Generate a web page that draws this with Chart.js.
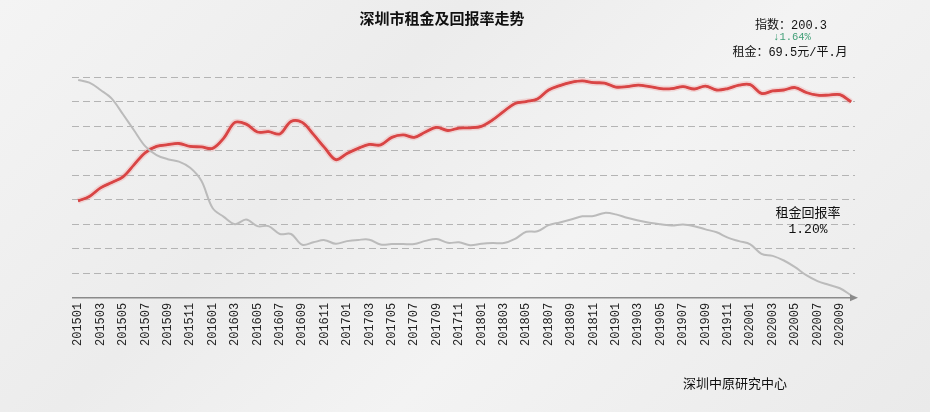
<!DOCTYPE html>
<html>
<head>
<meta charset="utf-8">
<script src="https://cdn.jsdelivr.net/npm/chart.js@4"></script>
<style>
  html, body { margin: 0; padding: 0; }
  body {
    width: 930px; height: 412px; overflow: hidden; position: relative;
    background: linear-gradient(135deg, #f4f4f4 0%, #ececec 35%, #f3f3f3 60%, #eaeaea 100%);
    font-family: "Liberation Mono", "Noto Sans CJK SC", monospace;
  }
  #grafica { position: absolute; left: 0; top: 0; }
  .txt { position: absolute; color: #111; white-space: nowrap; transform: translateX(-50%); line-height: 1; }
  #titulo { left: 442px; top: 7px; font: bold 15px "Noto Sans CJK SC", sans-serif; }
  #indice { left: 791px; top: 20px; font-size: 12px; }
  #cambio { left: 792px; top: 32px; font-size: 10.5px; color: #3f9e76; }
  #renta { left: 790px; top: 47px; font-size: 12px; }
  #retorno { left: 808px; top: 206px; font-size: 13px; text-align: center; line-height: 16px; }
  #fuente { left: 735px; top: 373px; font: 13px "Noto Sans CJK SC", sans-serif; }
</style>
</head>
<body>
<canvas id="grafica" width="930" height="412"></canvas>
<div class="txt" id="titulo">深圳市租金及回报率走势</div>
<div class="txt" id="indice">指数：200.3</div>
<div class="txt" id="cambio">↓1.64%</div>
<div class="txt" id="renta">租金：69.5元/平.月</div>
<div class="txt" id="retorno">租金回报率<br>1.20%</div>
<div class="txt" id="fuente">深圳中原研究中心</div>
<script>
/* Meses 201501 - 202010 */
const meses = [];
for (let a = 2015; a <= 2020; a++) {
    for (let m = 1; m <= 12; m++) {
        if (a === 2020 && m > 10) break;
        meses.push(a + String(m).padStart(2, '0'));
    }
}

// índice de alquiler (unidades de la cuadrícula)
const indiceRenta = [
    3.95, 4.13, 4.48, 4.70, 4.93, 5.43, 5.92, 6.17, 6.24, 6.29, 6.17, 6.15,
    6.09, 6.51, 7.15, 7.08, 6.76, 6.77, 6.68, 7.19, 7.15, 6.66, 6.12, 5.63,
    5.88, 6.09, 6.25, 6.23, 6.54, 6.64, 6.54, 6.76, 6.95, 6.82, 6.92, 6.93,
    6.99, 7.25, 7.60, 7.92, 8.00, 8.10, 8.47, 8.65, 8.78, 8.84, 8.77, 8.75,
    8.59, 8.61, 8.67, 8.61, 8.53, 8.53, 8.61, 8.51, 8.63, 8.47, 8.53, 8.67,
    8.69, 8.33, 8.43, 8.47, 8.57, 8.37, 8.26, 8.26, 8.28, 7.99
];

// rentabilidad del alquiler (unidades de la cuadrícula)
const rentabilidad = [
    8.88, 8.77, 8.47, 8.12, 7.48, 6.82, 6.17, 5.82, 5.65, 5.55, 5.30, 4.77,
    3.66, 3.30, 3.00, 3.19, 2.92, 2.92, 2.60, 2.60, 2.16, 2.26, 2.35, 2.20,
    2.31, 2.36, 2.37, 2.17, 2.19, 2.19, 2.19, 2.32, 2.40, 2.24, 2.26, 2.14,
    2.20, 2.23, 2.23, 2.40, 2.69, 2.71, 2.96, 3.07, 3.19, 3.32, 3.33, 3.46,
    3.40, 3.26, 3.15, 3.06, 3.00, 2.95, 2.99, 2.92, 2.79, 2.67, 2.45, 2.31,
    2.18, 1.79, 1.71, 1.52, 1.25, 0.92, 0.68, 0.53, 0.39, 0.10
];

function puntos(serie) {
    return serie.map((v, i) => ({x: i, y: v}));
}

// flecha al final del eje x
const flechaEje = {
    id: 'flechaEje',
    afterDraw(chart) {
        const ctx = chart.ctx;
        const area = chart.chartArea;
        const y = area.bottom;
        ctx.save();
        ctx.strokeStyle = '#8a8a8a';
        ctx.fillStyle = '#8a8a8a';
        ctx.lineWidth = 1.5;
        ctx.beginPath();
        ctx.moveTo(area.left, y);
        ctx.lineTo(area.right, y);
        ctx.stroke();
        ctx.beginPath();
        ctx.moveTo(area.right + 3, y);
        ctx.lineTo(area.right - 5, y - 3.5);
        ctx.lineTo(area.right - 5, y + 3.5);
        ctx.closePath();
        ctx.fill();
        ctx.restore();
    }
};

const lineaBase = {
    borderWidth: 2,
    pointRadius: 0,
    fill: false,
    tension: 0.35
};

new Chart(document.getElementById('grafica').getContext('2d'), {
    type: 'line',
    data: {
        datasets: [{
            ...lineaBase,
            label: '租金回报率',
            data: puntos(rentabilidad),
            borderColor: '#bbbbbb',
            borderWidth: 2
        }, {
            ...lineaBase,
            label: 'halo',
            data: puntos(indiceRenta),
            borderColor: 'rgba(240, 140, 140, 0.28)',
            borderWidth: 6
        }, {
            ...lineaBase,
            label: '指数',
            data: puntos(indiceRenta),
            borderColor: '#d02a2a',
            borderWidth: 2.8
        }, {
            ...lineaBase,
            label: 'nucleo',
            data: puntos(indiceRenta),
            borderColor: '#931818',
            borderWidth: 1.7
        }]
    },
    options: {
        responsive: false,
        animation: false,
        events: [],
        layout: {
            padding: {left: 72, right: 75, top: 77, bottom: 61}
        },
        plugins: {
            legend: {display: false},
            title: {display: false},
            tooltip: {enabled: false}
        },
        scales: {
            x: {
                type: 'linear',
                min: -0.55,
                max: 69.35,
                grid: {display: false, drawTicks: false},
                border: {display: false},
                afterBuildTicks: (escala) => {
                    escala.ticks = meses.map((m, i) => ({value: i})).filter(t => t.value % 2 === 0);
                },
                ticks: {
                    autoSkip: false,
                    minRotation: 90,
                    maxRotation: 90,
                    padding: 5,
                    color: '#222',
                    font: {family: 'Liberation Mono', size: 12},
                    callback: (v) => meses[v]
                }
            },
            y: {
                min: 0,
                max: 9,
                ticks: {display: false, stepSize: 1},
                grid: {color: '#b4b4b4', lineWidth: 1, drawTicks: false},
                border: {display: false, dash: [7, 4]}
            }
        }
    },
    plugins: [flechaEje]
});
</script>
</body>
</html>
